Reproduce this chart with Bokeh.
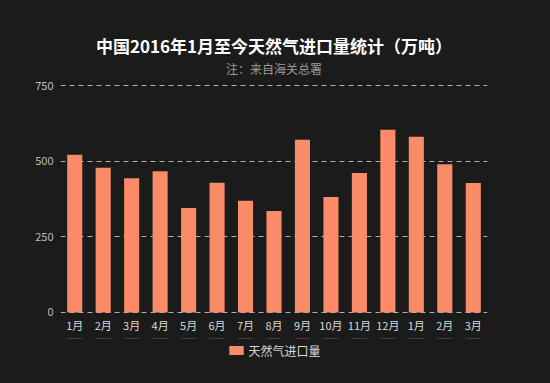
from bokeh.plotting import figure
from bokeh.layouts import column
from bokeh.models import (ColumnDataSource, Range1d, FixedTicker,
                          Title, Legend, LegendItem)
from bokeh.embed import file_html
from bokeh.resources import INLINE

# ---- data ----
month_labels = ["1月", "2月", "3月", "4月", "5月", "6月", "7月", "8月", "9月",
                "10月", "11月", "12月", "1月", "2月", "3月"]
imports = [521, 478, 444, 467, 345, 429, 369, 335, 571, 382, 461, 604, 581, 490, 428]
y_ticks = [0, 250, 500, 750]
series_name = "天然气进口量"
title_text = "中国2016年1月至今天然气进口量统计（万吨）"
subtitle_text = "注：来自海关总署"

FONT = "Noto Sans CJK SC"
BG = "#1b1b1b"
BAR = "#FA8B68"

idx = list(range(len(month_labels)))
src = ColumnDataSource(dict(x=idx, value=imports))

p = figure(width=550, height=338,
           x_range=Range1d(-0.5, len(idx) - 0.5), y_range=Range1d(-7, 757),
           output_backend="svg", toolbar_location=None, title_location=None,
           min_border_left=60, min_border_right=63,
           min_border_top=83, min_border_bottom=24,
           background_fill_color=BG, border_fill_color=None)
p.outline_line_color = None
p.styles = {"background-color": BG}

r = p.vbar(x="x", top="value", width=0.53, source=src,
           fill_color=BAR, line_color=None)

# titles
sub = Title(text=subtitle_text, align="center", text_font=FONT,
            text_font_size="12px", text_color="#9a9a9a",
            text_font_style="normal", standoff=13, offset=-6)
main = Title(text=title_text, align="center", text_font=FONT,
             text_font_size="17px", text_color="#ffffff",
             text_font_style="bold", standoff=-13, offset=-6)
p.add_layout(sub, "above")
p.add_layout(main, "above")

# axes
p.xaxis.ticker = FixedTicker(ticks=idx)
p.xaxis.major_label_overrides = {i: l for i, l in zip(idx, month_labels)}
p.yaxis.ticker = FixedTicker(ticks=y_ticks)
for ax in (p.xaxis, p.yaxis):
    ax.axis_line_color = None
    ax.major_tick_line_color = None
    ax.minor_tick_line_color = None
    ax.major_tick_out = 0
    ax.major_tick_in = 0
    ax.minor_tick_out = 0
    ax.major_label_text_font = FONT
    ax.major_label_text_font_size = "11px"
p.xaxis.major_label_text_color = "#d8d8d8"
p.yaxis.major_label_text_color = "#bdbdbd"
p.xaxis.major_label_standoff = 2
p.yaxis.major_label_standoff = 7

# grid
p.xgrid.grid_line_color = None
p.ygrid.grid_line_color = "#b0b0b0"
p.ygrid.grid_line_dash = "5 4"
p.ygrid.grid_line_width = 1

# legend strip below the chart (zero-height bars out of view; only the key shows)
leg = figure(width=550, height=45, output_backend="svg", toolbar_location=None,
             x_range=Range1d(-0.5, len(idx) - 0.5), y_range=Range1d(-2, -1),
             x_axis_location=None, y_axis_location=None,
             min_border_left=0, min_border_right=0,
             min_border_top=0, min_border_bottom=21,
             border_fill_color=None, background_fill_color=None,
             outline_line_color=None)
leg.styles = {"background-color": BG}
leg.grid.visible = False
lr = leg.vbar(x="x", bottom="value", top="value", width=0.53, source=src,
              fill_color=BAR, line_color=None)
legend = Legend(items=[LegendItem(label=series_name, renderers=[lr])],
                orientation="horizontal", location="center",
                glyph_width=18, glyph_height=11, label_height=14,
                label_text_font=FONT, label_text_font_size="12px",
                label_text_color="#d8d8d8", label_text_baseline="middle",
                background_fill_alpha=0, border_line_color=None,
                margin=0, padding=0, label_standoff=4)
leg.add_layout(legend, "center")

layout = column(p, leg, spacing=0)
layout.styles = {"background-color": BG}

open("out.html", "w").write(file_html(layout, INLINE))
